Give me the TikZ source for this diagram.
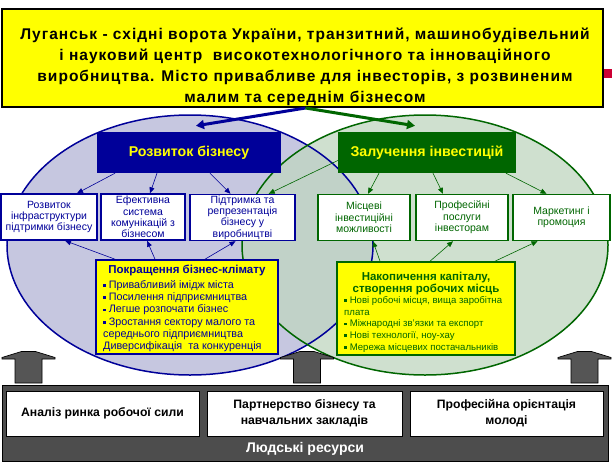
\documentclass[tikz,border=0pt]{standalone}
\usepackage{fontspec}
\setmainfont{Liberation Sans}
\usetikzlibrary{arrows.meta}
\definecolor{navy}{RGB}{0,0,153}
\definecolor{dgreen}{RGB}{0,102,0}
\definecolor{ylw}{RGB}{255,255,0}
\definecolor{panelgray}{RGB}{77,77,77}
\definecolor{arrgray}{RGB}{85,85,85}
\definecolor{bluefill}{RGB}{198,199,224}
\definecolor{greenfill}{RGB}{192,214,192}
\definecolor{redmark}{RGB}{204,0,51}
\newcommand\bul{\rule[1.6pt]{2.6pt}{2.6pt}\hspace{3pt}}
\tikzset{
  headbox/.style={minimum height=41pt, inner sep=0pt, text=ylw, font=\fontsize{14.2}{16}\selectfont\bfseries},
  subbox/.style={draw, line width=1.4pt, fill=white, minimum height=46pt, inner sep=0.5pt, align=center, font=\fontsize{10.5}{11.4}\selectfont},
  ylwbox/.style={draw, line width=1.6pt, fill=ylw, inner sep=0pt},
  conn/.style={line width=0.6pt, -{Triangle[width=5pt,length=6pt]}},
  graybox/.style={draw=black, line width=0.6pt, fill=white, minimum height=45pt, inner sep=0pt, align=center, font=\fontsize{12.2}{16}\selectfont\bfseries},
  uparrow/.pic={\draw[fill=arrgray, draw=black, line width=0.7pt] (-13.5,0) -- (-13.5,-24) -- (-26.5,-24) -- (-26.5,-25.5) -- (-7,-31.5) -- (7,-31.5) -- (26.5,-25.5) -- (26.5,-24) -- (13.5,-24) -- (13.5,0) -- cycle;}
}
\begin{document}
\begin{tikzpicture}[x=1pt,y=-1pt]
\useasboundingbox (0,0) rectangle (612,466);
\fill[white] (0,0) rectangle (612,466);
% ellipses
\fill[bluefill] (190,245) ellipse [x radius=183, y radius=130];
\fill[greenfill, opacity=0.75] (425,245) ellipse [x radius=183, y radius=130];
\draw[navy, line width=1.5pt] (190,245) ellipse [x radius=183, y radius=130];
\draw[dgreen, line width=1.5pt] (425,245) ellipse [x radius=183, y radius=130];
% top box
\node[draw=black, line width=2pt, fill=ylw, minimum width=601pt, minimum height=98pt, inner sep=0pt] (top) at (302.5,58) {};
\node[inner sep=0pt, align=center, font=\fontsize{15.5}{21}\selectfont\bfseries\addfontfeatures{LetterSpace=6.5}] (toptext) at (305,67)
  {Луганськ - східні ворота України, транзитний, машинобудівельний\\
   і науковий центр\ \ високотехнологічного та інноваційного\\
   виробництва. Місто привабливе для інвесторів, з розвиненим\\
   малим та середнім бізнесом};
\fill[redmark] (604,69) rectangle (612,78);
% headings
\node[headbox, fill=navy, minimum width=184pt] (rb) at (189,152.5) {Розвиток бізнесу};
\node[headbox, fill=dgreen, minimum width=178pt] (rg) at (427,152.5) {Залучення інвестицій};
% thick arrows from the top box
\draw[navy, line width=3pt, -{Triangle[width=9pt,length=8pt]}] ([xshift=3pt]top.south) -- ([xshift=7pt,yshift=6pt]rb.north);
\draw[dgreen, line width=3pt, -{Triangle[width=9pt,length=8pt]}] ([xshift=3pt]top.south) -- ([xshift=-12pt,yshift=6pt]rg.north);
% sub boxes
\node[subbox, draw=navy, text=navy, minimum width=96pt] (b1) at (49,217) {Розвиток\\інфраструктури\\підтримки бізнесу};
\node[subbox, draw=navy, text=navy, minimum width=84pt] (b2) at (143,217) {Ефективна\\система\\комунікацій з\\бізнесом};
\node[subbox, draw=navy, text=navy, minimum width=105pt] (b3) at (242.5,217.5) {Підтримка та\\репрезентація\\бізнесу у\\виробництві};
\node[subbox, draw=dgreen, text=dgreen, minimum width=92pt] (g1) at (364,217.5) {Місцеві\\інвестиційні\\можливості};
\node[subbox, draw=dgreen, text=dgreen, minimum width=92pt] (g2) at (462,217.5) {Професійні\\послуги\\інвесторам};
\node[subbox, draw=dgreen, text=dgreen, minimum width=97pt] (g3) at (561.5,217.5) {Маркетинг і\\промоция};
% heading -> sub box arrows
\draw[conn, navy] ([xshift=-74pt]rb.south) -- ([xshift=28pt]b1.north);
\draw[conn, navy] ([xshift=-32pt]rb.south) -- ([xshift=7pt]b2.north);
\draw[conn, navy] ([xshift=21pt]rb.south) -- ([xshift=-12pt]b3.north);
\draw[conn, dgreen] ([yshift=-8pt]rg.west) -- ([xshift=-27pt]b3.north east);
\draw[conn, dgreen] ([xshift=-48pt]rg.south) -- ([xshift=4pt]g1.north);
\draw[conn, dgreen] ([xshift=6pt]rg.south) -- ([xshift=-19pt]g2.north);
\draw[conn, dgreen] ([xshift=79pt]rg.south) -- ([xshift=-15pt]g3.north);
% yellow boxes
\node[ylwbox, draw=navy, minimum width=182pt, minimum height=94pt] (cy) at (187,307) {};
\node[text=navy, anchor=north, inner sep=0pt, font=\fontsize{11.5}{13}\selectfont\bfseries] (cyt) at (187,264.5) {Покращення бізнес-клімату};
\node[text=navy, anchor=north west, inner sep=0pt, align=left, font=\fontsize{10.8}{12.3}\selectfont] (cyl) at (103,280)
  {\bul Привабливий імідж міста\\
   \bul Посилення підприємництва\\
   \bul Легше розпочати бізнес\\
   \bul Зростання сектору малого та\\
   середнього підприємництва\\
   Диверсифікація\ \ та конкуренція};
\node[ylwbox, draw=dgreen, minimum width=178pt, minimum height=93pt] (gy) at (426,308.5) {};
\node[text=dgreen, anchor=north, inner sep=0pt, align=center, font=\fontsize{11.5}{12}\selectfont\bfseries] (gyt) at (426,272)
  {Накопичення капіталу,\\створення робочих місць};
\node[text=dgreen, anchor=north west, inner sep=0pt, align=left, font=\fontsize{9.6}{11.8}\selectfont] (gyl) at (344,296)
  {\bul Нові робочі місця, вища заробітна\\
   плата\\
   \bul Міжнародні зв'язки та експорт\\
   \bul Нові технології, ноу-хау\\
   \bul Мережа місцевих постачальників};
% yellow box -> sub box arrows
\draw[conn, navy] ([xshift=-72pt]cy.north) -- ([xshift=16pt]b1.south);
\draw[conn, navy] ([xshift=-32pt]cy.north) -- ([xshift=4pt]b2.south);
\draw[conn, navy] ([xshift=18pt]cy.north) -- ([xshift=-7pt]b3.south);
\draw[conn, dgreen] ([xshift=-46pt]gy.north) -- ([xshift=9pt]g1.south);
\draw[conn, dgreen] ([xshift=4pt]gy.north) -- ([xshift=-9pt]g2.south);
\draw[conn, dgreen] ([xshift=69pt]gy.north) -- ([xshift=-24pt]g3.south);
% gray up arrows
\pic at (28.5,383) {uparrow};
\pic at (307,383) {uparrow};
\pic at (584.5,383) {uparrow};
% bottom panel
\node[draw=black, line width=0.8pt, fill=panelgray, minimum width=606pt, minimum height=76pt, inner sep=0pt] (panel) at (305,423) {};
\node[graybox, minimum width=193pt] (h1) at (102.5,413.5) {Аналіз ринка робочої сили};
\node[graybox, minimum width=195pt] (h2) at (304.5,413.5) {Партнерство бізнесу та\\навчальних закладів};
\node[graybox, minimum width=193pt] (h3) at (506.5,413.5) {Професійна орієнтація\\молоді};
\node[text=white, inner sep=0pt, font=\fontsize{14}{16}\selectfont\bfseries] (hr) at (305,449) {Людські ресурси};
\end{tikzpicture}
\end{document}
